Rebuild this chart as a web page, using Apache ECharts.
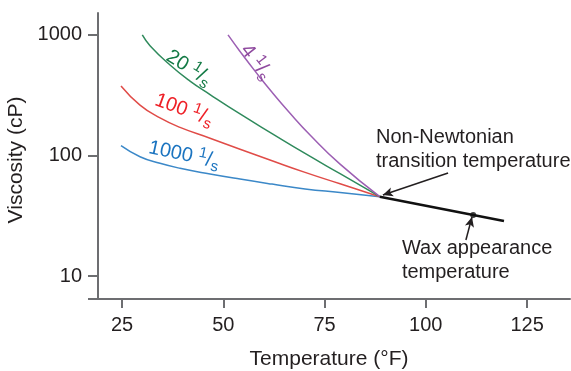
<!DOCTYPE html>
<html>
<head>
<meta charset="utf-8">
<script src="https://cdn.jsdelivr.net/npm/echarts@6/dist/echarts.min.js"></script>
<style>
  html, body { margin: 0; padding: 0; background: #ffffff; }
  #chart { width: 571px; height: 371px; }
</style>
</head>
<body>
<div id="chart"></div>
<script>
// Viscosity (cP) versus temperature (°F) at four shear rates
const temp1000 = [24.75, 29.44, 34.38, 39.32, 46.73, 54.14, 62.04, 70.19, 78.83, 88.64];
const visc1000 = [120.6, 97.7, 86.1, 78.3, 70.2, 63.7, 57.9, 52.8, 49.3, 45.5];

const temp100 = [24.75, 29.44, 34.38, 39.32, 46.73, 54.14, 62.04, 70.19, 78.83, 88.64];
const visc100 = [377, 262, 205, 171, 139, 112.6, 90.4, 72.4, 58.2, 45.5];

const temp20 = [30.01, 31.91, 36.85, 41.79, 46.73, 54.14, 62.04, 70.19, 78.83, 88.64];
const visc20 = [1000, 815, 563, 414, 320, 221, 152, 104, 70.6, 45.5];

const temp4 = [51.17, 54.14, 57.84, 62.04, 66.48, 71.42, 78.83, 88.64];
const visc4 = [1000, 729, 501, 334, 224, 148, 84.7, 45.5];

// Newtonian branch above the transition temperature
const newtonTemp = [88.64, 119.3];
const newtonVisc = [45.5, 28.6];

// Wax appearance temperature
const waxTemp = [111.7];
const waxVisc = [32.1];

// Axis ranges and tick labels
const xTicks = [25, 50, 75, 100, 125];
const yTicks = [10, 100, 1000];
const xRange = [19.07, 135.6];
const yRange = [6.45, 1520];

// Shear-rate label text and where each label sits (temperature, viscosity, angle)
const rateNames = ['1000', '100', '20', '4'];
const rateLabelTemp = [40.3, 40.3, 41.5, 58.1];
const rateLabelVisc = [101, 239, 532, 597];
const rateLabelAngle = [-12, -20, -32, -52];

// Callout text anchors and arrows
const nnText = 'Non-Newtonian\ntransition temperature';
const nnTextAt = [87.7, 179];
const nnArrow = [[105.5, 71.6], [89.4, 47.0]];
const waxText = 'Wax appearance\ntemperature';
const waxTextAt = [94.1, 21.1];
const waxArrow = [[109.9, 19.9], [111.4, 30.9]];

const FONT = '"Liberation Sans", Arial, Helvetica, sans-serif';
const INK = '#231f20';
const AXIS = '#6d6e71';
const lineColors = ['#3b88c8', '#e04c48', '#2f8a5c', '#9c5fb3'];
const labelColors = ['#1b74c0', '#ee2027', '#137a45', '#8f4a9f'];

function zip(xs, ys) { return xs.map((x, i) => [x, ys[i]]); }

// "1/s" drawn as a small raised 1, a slash and a small lowered s
function rateRich(color) {
  return {
    n:   { fontSize: 20, color: color, lineHeight: 20, fontFamily: FONT },
    sup: { fontSize: 15, color: color, lineHeight: 20, padding: [0, 0, 11, 0], fontFamily: FONT },
    sl:  { fontSize: 21, color: color, lineHeight: 20, fontFamily: FONT },
    sub: { fontSize: 15, color: color, lineHeight: 20, padding: [11, 0, 0, 0], fontFamily: FONT }
  };
}

function curveSeries(idx, xs, ys) {
  return {
    type: 'line',
    data: zip(xs, ys),
    smooth: 0.5,
    showSymbol: false,
    lineStyle: { color: lineColors[idx], width: 1.5 },
    z: 2,
    markPoint: {
      symbol: 'circle',
      symbolSize: 1,
      itemStyle: { color: 'transparent' },
      silent: true,
      data: [{
        coord: [rateLabelTemp[idx], rateLabelVisc[idx]],
        label: {
          show: true,
          position: 'inside',
          rotate: rateLabelAngle[idx],
          formatter: '{n|' + rateNames[idx] + ' }{sup|1}{sl|/}{sub|s}',
          rich: rateRich(labelColors[idx])
        }
      }]
    }
  };
}

function calloutPoint(at, text) {
  return {
    coord: at,
    label: {
      show: true,
      position: 'inside',
      align: 'left',
      verticalAlign: 'top',
      formatter: text,
      fontSize: 20,
      lineHeight: 24,
      color: INK,
      fontFamily: FONT
    }
  };
}

const chart = echarts.init(document.getElementById('chart'), null, { renderer: 'canvas' });

chart.setOption({
  animation: false,
  backgroundColor: '#ffffff',
  textStyle: { fontFamily: FONT },
  grid: { left: 98, top: 13, right: 1, bottom: 72, containLabel: false, outerBoundsMode: 'none' },
  xAxis: {
    type: 'value',
    min: xRange[0],
    max: xRange[1],
    axisLine: { show: true, onZero: false, lineStyle: { color: AXIS, width: 2 } },
    axisTick: { show: true, customValues: xTicks, length: 9, lineStyle: { color: AXIS, width: 2 } },
    axisLabel: { customValues: xTicks, margin: 16, fontSize: 20, color: INK, fontFamily: FONT },
    splitLine: { show: false },
    name: 'Temperature (°F)',
    nameLocation: 'middle',
    nameGap: 50,
    nameTextStyle: { fontSize: 21, color: INK, fontFamily: FONT, padding: [0, 10, 0, 0] }
  },
  yAxis: {
    type: 'log',
    logBase: 10,
    min: yRange[0],
    max: yRange[1],
    axisLine: { show: true, onZero: false, lineStyle: { color: AXIS, width: 2 } },
    axisTick: { show: true, customValues: [yRange[0]].concat(yTicks), length: 10, lineStyle: { color: AXIS, width: 2 } },
    axisLabel: {
      customValues: yTicks,
      margin: 16,
      fontSize: 20,
      color: INK,
      fontFamily: FONT,
      formatter: (v) => String(Math.round(v))
    },
    splitLine: { show: false },
    minorTick: { show: false },
    name: 'Viscosity (cP)',
    nameLocation: 'middle',
    nameGap: 50,
    nameTextStyle: { fontSize: 21, color: INK, fontFamily: FONT, padding: [0, 8, 0, 0] }
  },
  series: [
    curveSeries(0, temp1000, visc1000),
    curveSeries(1, temp100, visc100),
    curveSeries(2, temp20, visc20),
    curveSeries(3, temp4, visc4),
    {
      type: 'line',
      data: zip(newtonTemp, newtonVisc),
      showSymbol: false,
      lineStyle: { color: '#111111', width: 2.5 },
      z: 3,
      markLine: {
        silent: true,
        symbol: ['none', 'arrow'],
        symbolSize: [7, 10],
        label: { show: false },
        lineStyle: { color: INK, width: 1.5, type: 'solid' },
        data: [
          [{ coord: nnArrow[0] }, { coord: nnArrow[1] }],
          [{ coord: waxArrow[0] }, { coord: waxArrow[1] }]
        ]
      },
      markPoint: {
        symbol: 'circle',
        symbolSize: 1,
        itemStyle: { color: 'transparent' },
        silent: true,
        data: [calloutPoint(nnTextAt, nnText), calloutPoint(waxTextAt, waxText)]
      }
    },
    {
      type: 'scatter',
      data: zip(waxTemp, waxVisc),
      symbol: 'circle',
      symbolSize: 6,
      itemStyle: { color: '#111111' },
      z: 4
    }
  ]
});
</script>
</body>
</html>
